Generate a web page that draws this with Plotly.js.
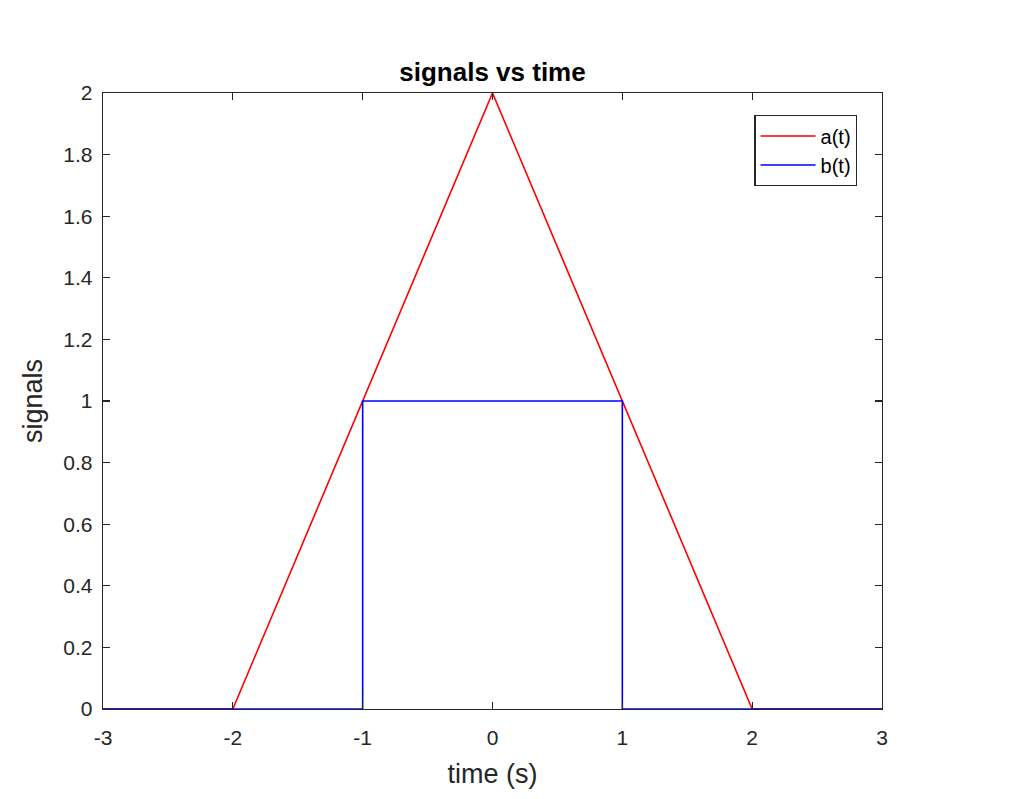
<!DOCTYPE html>
<html>
<head>
<meta charset="utf-8">
<script src="https://cdn.plot.ly/plotly-3.0.1.min.js"></script>
<style>html,body{margin:0;padding:0;background:#fff;}#chart{width:1024px;height:799px;}</style>
</head>
<body>
<div id="chart"></div>
<script>
const aTime = [-3, -2, 0, 2, 3];
const aValues = [0, 0, 2, 0, 0];
const bTime = [-3, -1, -1, 1, 1, 3];
const bValues = [0, 0, 1, 1, 0, 0];
const xTickVals = [-3, -2, -1, 0, 1, 2, 3];
const xTickText = ['-3', '-2', '-1', '0', '1', '2', '3'];
const yTickVals = [0, 0.2, 0.4, 0.6, 0.8, 1, 1.2, 1.4, 1.6, 1.8, 2];
const yTickText = ['0', '0.2', '0.4', '0.6', '0.8', '1', '1.2', '1.4', '1.6', '1.8', '2'];

const axisColor = '#262626';
const font = 'Liberation Sans, Arial, Helvetica, sans-serif';

const traces = [
  {x: aTime, y: aValues, name: 'a(t)', mode: 'lines', line: {color: '#ff0000', width: 1.6}},
  {x: bTime, y: bValues, name: 'b(t)', mode: 'lines', line: {color: '#0000ff', width: 1.6}}
];

const commonAxis = {
  showgrid: false, zeroline: false, showline: true, linecolor: axisColor, linewidth: 1.3,
  mirror: 'ticks', ticks: 'inside', ticklen: 7, tickcolor: axisColor, tickwidth: 1.3,
  tickfont: {family: font, size: 21, color: axisColor}
};

const layout = {
  width: 1024, height: 799,
  paper_bgcolor: '#ffffff', plot_bgcolor: '#ffffff',
  margin: {l: 103, r: 142, t: 93, b: 90},
  title: {text: '<b>signals vs time</b>', font: {family: font, size: 26, color: '#000'},
    xref: 'paper', x: 0.5, xanchor: 'center', yref: 'paper', y: 1, yanchor: 'bottom', pad: {b: 12}},
  xaxis: Object.assign({}, commonAxis, {
    range: [-3, 3], tickvals: xTickVals, ticktext: xTickText, ticklabelstandoff: 9,
    title: {text: 'time (s)', font: {family: font, size: 27, color: axisColor}, standoff: 16}
  }),
  yaxis: Object.assign({}, commonAxis, {
    range: [0, 2], tickvals: yTickVals, ticktext: yTickText, ticklabelstandoff: 5,
    title: {text: 'signals', font: {family: font, size: 27, color: axisColor}, standoff: 12}
  }),
  showlegend: true,
  legend: {
    x: 0.836, y: 0.964, xanchor: 'left', yanchor: 'top',
    bgcolor: '#ffffff', bordercolor: axisColor, borderwidth: 1.3,
    font: {family: font, size: 20, color: '#000'},
    tracegroupgap: 0, itemwidth: 55
  }
};

Plotly.newPlot('chart', traces, layout, {displayModeBar: false, staticPlot: true});
</script>
</body>
</html>
